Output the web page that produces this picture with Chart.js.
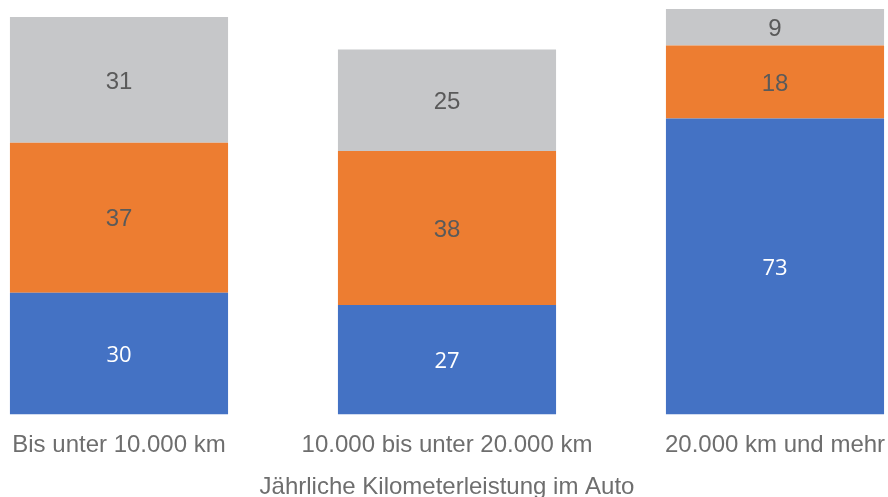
<!DOCTYPE html>
<html>
<head>
<meta charset="utf-8">
<script src="https://cdn.jsdelivr.net/npm/chart.js@4"></script>
<style>
  html, body { margin: 0; padding: 0; background: #fff; }
  #wrap { position: relative; width: 888px; height: 497px; overflow: hidden; }
  #box { position: absolute; left: -45px; top: 0; width: 984px; height: 497px; }
</style>
</head>
<body>
<div id="wrap"><div id="box"><canvas id="chart"></canvas></div></div>
<script>
// categories and values
const categories = ["Bis unter 10.000 km", "10.000 bis unter 20.000 km", "20.000 km und mehr"];
const blueValues = [30, 27, 73];
const orangeValues = [37, 38, 18];
const grayValues = [31, 25, 9];
const axisTitle = "Jährliche Kilometerleistung im Auto";

// simple label plugin (no datalabels lib available)
const barLabels = {
  id: "barLabels",
  afterDatasetsDraw(chart) {
    const ctx = chart.ctx;
    chart.data.datasets.forEach((ds, i) => {
      const meta = chart.getDatasetMeta(i);
      meta.data.forEach((bar, j) => {
        const mid = (bar.y + bar.base) / 2 + 2;
        ctx.save();
        ctx.fillStyle = ds.labelColor;
        ctx.font = ds.labelFont;
        ctx.textAlign = "center";
        ctx.textBaseline = "middle";
        ctx.fillText(String(ds.data[j]), bar.x, mid);
        ctx.restore();
      });
    });
  }
};

new Chart(document.getElementById("chart").getContext("2d"), {
  type: "bar",
  data: {
    labels: categories,
    datasets: [
      { data: blueValues, backgroundColor: "#4472c4", labelColor: "#ffffff", labelFont: "22px 'Open Sans'" },
      { data: orangeValues, backgroundColor: "#ed7d31", labelColor: "#5a5a5a", labelFont: "24px 'Liberation Sans'" },
      { data: grayValues, backgroundColor: "#c6c7c9", labelColor: "#5a5a5a", labelFont: "24px 'Liberation Sans'" }
    ]
  },
  options: {
    responsive: true,
    maintainAspectRatio: false,
    animation: false,
    layout: { padding: { top: 9, left: 0, right: 0, bottom: 0 } },
    datasets: { bar: { categoryPercentage: 1, barPercentage: 0.665 } },
    plugins: { legend: { display: false }, tooltip: { enabled: false } },
    scales: {
      x: {
        stacked: true,
        grid: { display: false },
        border: { display: false },
        ticks: {
          color: "#6e6e6e",
          font: { family: "'Liberation Sans'", size: 24 },
          padding: 8,
          maxRotation: 0
        },
        title: {
          display: true,
          text: axisTitle,
          color: "#6e6e6e",
          font: { family: "'Liberation Sans'", size: 24 },
          padding: { top: 0, bottom: -5 }
        },
        afterFit(scale) { scale.height = 82.5; }
      },
      y: {
        stacked: true,
        display: false,
        min: 0,
        max: 100
      }
    }
  },
  plugins: [barLabels]
});
</script>
</body>
</html>
